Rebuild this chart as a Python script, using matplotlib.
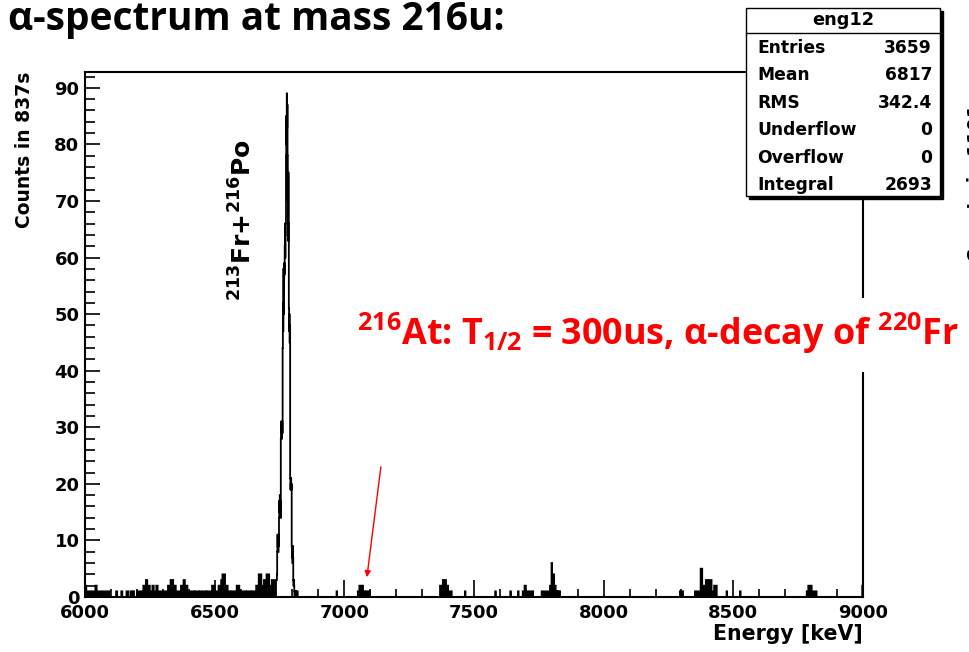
import numpy as np
import matplotlib.pyplot as plt
from matplotlib.patches import Rectangle
from matplotlib.ticker import MultipleLocator

plt.rcParams['mathtext.fontset'] = 'custom'
plt.rcParams['mathtext.rm'] = 'Open Sans:bold'
plt.rcParams['mathtext.bf'] = 'Open Sans:bold'
plt.rcParams['mathtext.it'] = 'Open Sans:bold'

# histogram range, 1 keV bins
e_min, e_max = 6000, 9000

# main line: 1 keV bins starting at 6740 keV
peak_start = 6740
peak_counts = [4, 8, 11, 9, 10, 8, 11, 9, 14, 17,
               15, 18, 16, 17, 14, 28, 31, 29, 30, 28,
               31, 29, 44, 52, 47, 58, 50, 56, 59, 57,
               62, 66, 60, 64, 66, 78, 85, 80, 89, 83,
               87, 78, 70, 63, 75, 66, 51, 47, 50, 45,
               48, 21, 19, 20, 21, 19, 20, 9, 7, 8,
               6, 9, 7, 3, 2, 3, 2, 1, 0, 1]

# background clusters (keV from, keV to, counts per bin)
bg_lo = [6000, 6005, 6040, 6045, 6120, 6140, 6160, 6175, 6185, 6200,
         6225, 6235, 6240, 6250, 6260, 6265, 6275, 6280, 6300, 6320,
         6330, 6340, 6350, 6370, 6380, 6385, 6395, 6405, 6425, 6445,
         6470, 6490, 6500, 6515, 6525, 6530, 6540, 6550, 6565, 6585,
         6600, 6625, 6645, 6660, 6670, 6680, 6690, 6700, 6710, 6720,
         6812, 6818, 6970, 7052, 7058, 7072, 7085, 7095, 7369, 7380,
         7392, 7400, 7465, 7582, 7640, 7670, 7688, 7695, 7700, 7715,
         7725, 7761, 7793, 7799, 7801, 7809, 7815, 7822, 7829, 8294,
         8352, 8374, 8384, 8394, 8400, 8406, 8416, 8426, 8474, 8526,
         8783, 8789, 8802, 8812, 8997]
bg_hi = [6005, 6040, 6045, 6095, 6124, 6144, 6166, 6180, 6189, 6225,
         6235, 6240, 6250, 6260, 6265, 6275, 6280, 6300, 6320, 6330,
         6340, 6350, 6368, 6380, 6385, 6395, 6405, 6420, 6440, 6465,
         6490, 6500, 6515, 6525, 6530, 6540, 6550, 6560, 6580, 6595,
         6620, 6640, 6660, 6670, 6680, 6690, 6700, 6710, 6720, 6740,
         6814, 6820, 6972, 7058, 7072, 7080, 7088, 7098, 7380, 7392,
         7400, 7414, 7467, 7584, 7642, 7672, 7695, 7700, 7708, 7718,
         7728, 7793, 7799, 7801, 7809, 7815, 7820, 7825, 7832, 8306,
         8374, 8380, 8394, 8400, 8404, 8416, 8426, 8436, 8476, 8528,
         8789, 8802, 8812, 8821, 9000]
bg_cnt = [2, 1, 2, 1, 1, 1, 1, 1, 1, 1,
          2, 3, 2, 1, 2, 1, 2, 1, 1, 2,
          3, 2, 1, 2, 3, 2, 1, 1, 1, 1,
          1, 2, 1, 2, 3, 4, 2, 1, 1, 2,
          1, 1, 1, 2, 4, 2, 3, 4, 2, 3,
          1, 1, 1, 1, 2, 1, 1, 1, 2, 3,
          2, 1, 1, 1, 1, 1, 1, 2, 1, 1,
          1, 1, 2, 6, 4, 2, 1, 1, 1, 1,
          1, 5, 2, 3, 2, 3, 1, 2, 1, 1,
          1, 2, 1, 1, 2]

stats_names = ['Entries', 'Mean', 'RMS', 'Underflow', 'Overflow', 'Integral']
stats_values = ['3659', '6817', '342.4', '0', '0', '2693']

edges = np.arange(e_min, e_max + 1)
bg = np.zeros(len(edges) - 1)
for lo, hi, c in zip(bg_lo, bg_hi, bg_cnt):
    bg[lo - e_min:hi - e_min] = c
hist = bg.copy()
i0 = peak_start - e_min
hist[i0:i0 + len(peak_counts)] = peak_counts

W, H = 969, 652
fig = plt.figure(figsize=(W / 100, H / 100), dpi=100)
ax = fig.add_axes([85 / W, 55 / H, 778 / W, 525 / H])

ax.stairs(bg, edges, fill=True, color='black', lw=0)
ax.stairs(hist, edges, color='black', lw=1.3)

ax.set_xlim(e_min, e_max)
ax.set_ylim(0, 92.8)
for s in ax.spines.values():
    s.set_linewidth(1.5)

ax.xaxis.set_major_locator(MultipleLocator(500))
ax.xaxis.set_minor_locator(MultipleLocator(100))
ax.yaxis.set_major_locator(MultipleLocator(10))
ax.yaxis.set_minor_locator(MultipleLocator(2))
ax.tick_params(axis='x', which='major', direction='in', length=12, width=1.2, pad=5)
ax.tick_params(axis='x', which='minor', direction='in', length=6, width=1.2)
ax.tick_params(axis='y', which='major', direction='in', length=11, width=1.2, pad=4)
ax.tick_params(axis='y', which='minor', direction='in', length=7, width=1.2)
for lab in ax.get_xticklabels() + ax.get_yticklabels():
    lab.set_family('DejaVu Sans')
    lab.set_fontweight('bold')
    lab.set_fontsize(13)

ax.set_ylabel('Counts in 837s', family='DejaVu Sans', weight='bold', fontsize=13.5)
ax.yaxis.set_label_coords(-0.066, 1.0)
ax.yaxis.label.set_horizontalalignment('right')
ax.set_xlabel('Energy [keV]', family='DejaVu Sans', weight='bold', fontsize=14.8)
ax.xaxis.set_label_coords(1.0, -0.051)
ax.xaxis.label.set_horizontalalignment('right')

# line label
ax.text(6609, 66.7, r'$\mathbf{^{213}}$Fr+$\mathbf{^{216}}$Po', rotation=90,
        ha='center', va='center', family='DejaVu Sans', weight='bold',
        fontsize=18, math_fontfamily='dejavusans')

# arrow to the 216At line
ax.annotate('', xy=(7087, 3.5), xytext=(7141, 23),
            arrowprops=dict(arrowstyle='-|>', color='red', lw=1,
                            mutation_scale=9, shrinkA=0, shrinkB=0))

def fx(px):
    return px / W

def fy(py):
    return 1 - py / H

# title
fig.text(fx(8), fy(30), 'α-spectrum at mass 216u:', family=['Open Sans', 'DejaVu Sans'],
         weight='bold', fontsize=28, va='baseline')

# red annotation on white band
fig.add_artist(Rectangle((fx(355), fy(372)), fx(W - 355), 74 / H,
                         transform=fig.transFigure, facecolor='white',
                         edgecolor='none', zorder=5))
fig.text(fx(357), fy(345), r'$^{216}$At: T$_{1/2}$ = 300us, α-decay of $^{220}$Fr',
         color='#ff0000', family=['Open Sans', 'DejaVu Sans'], weight='bold',
         fontsize=25.8, va='baseline', zorder=6)

# stats box
bx0, by0, bx1, by1 = 746, 8, 940, 196
fig.add_artist(Rectangle((fx(bx0 + 3), fy(by1 + 3)), fx(bx1 - bx0), (by1 - by0) / H,
                         transform=fig.transFigure, facecolor='black',
                         edgecolor='black', zorder=7))
fig.add_artist(Rectangle((fx(bx0), fy(by1)), fx(bx1 - bx0), (by1 - by0) / H,
                         transform=fig.transFigure, facecolor='white',
                         edgecolor='black', lw=1, zorder=8))
fig.add_artist(plt.Line2D([fx(bx0), fx(bx1)], [fy(33), fy(33)],
                          transform=fig.transFigure, color='black', lw=1, zorder=9))
fig.text(fx((bx0 + bx1) / 2), fy(20), 'eng12', ha='center', va='center',
         family='DejaVu Sans', weight='bold', fontsize=12.8, zorder=9)
for k, (name, val) in enumerate(zip(stats_names, stats_values)):
    yy = fy(48 + k * 27.4)
    fig.text(fx(757), yy, name, ha='left', va='center', family='DejaVu Sans',
             weight='bold', fontsize=12.3, zorder=9)
    fig.text(fx(932), yy, val, ha='right', va='center', family='DejaVu Sans',
             weight='bold', fontsize=12.3, zorder=9)

# cut-off label of a neighbouring plot
fig.text(fx(976), fy(262), 'Counts in 1101s', rotation=90, ha='center', va='bottom',
         family='DejaVu Sans', weight='bold', fontsize=13.5)

fig.savefig('out.png', dpi=100)
